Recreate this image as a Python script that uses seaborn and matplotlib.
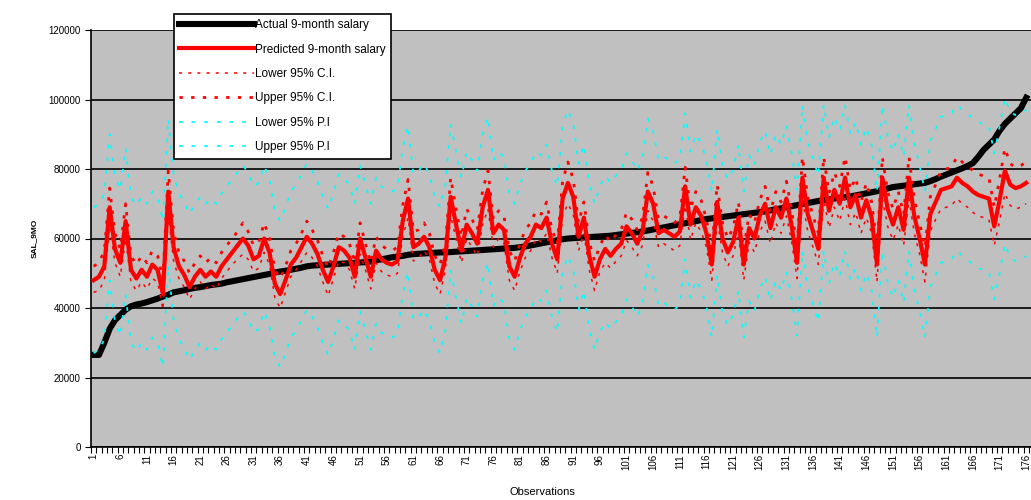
import numpy as np
import pandas as pd
import matplotlib
matplotlib.use("Agg")
import matplotlib.pyplot as plt
import seaborn as sns

# observation numbers 1..176
observations = list(range(1, 177))

actual_salary = [
    26500, 26500, 30000, 34000, 36500, 38000, 39500, 40500, 41000, 41300,
    41700, 42200, 42700, 43300, 43800, 44500, 44800, 45100, 45500, 45800,
    46000, 46300, 46600, 46800, 47000, 47400, 47700, 48000, 48300, 48600,
    48900, 49200, 49500, 49800, 50200, 50500, 50700, 51000, 51300, 51600,
    52000, 52200, 52300, 52400, 52500, 52600, 52700, 52800, 52900, 53000,
    53100, 53200, 53400, 53700, 54000, 54300, 54600, 54800, 55000, 55300,
    55500, 55600, 55700, 55800, 55900, 56000, 56000, 56100, 56200, 56300,
    56400, 56500, 56600, 56700, 56800, 56900, 57000, 57100, 57200, 57300,
    57500, 57700, 58000, 58300, 58600, 58900, 59200, 59500, 59800, 60000,
    60100, 60200, 60300, 60400, 60500, 60600, 60700, 60800, 61000, 61200,
    61400, 61600, 61800, 62000, 62300, 62600, 62900, 63200, 63500, 63800,
    64100, 64400, 64700, 65000, 65300, 65600, 65800, 66000, 66200, 66400,
    66600, 66800, 67000, 67200, 67400, 67600, 67800, 68100, 68400, 68700,
    69000, 69300, 69600, 69900, 70200, 70500, 70800, 71100, 71300, 71500,
    71700, 71900, 72100, 72400, 72700, 73000, 73300, 73600, 74000, 74400,
    74800, 75000, 75200, 75400, 75600, 75800, 76000, 76500, 77100, 77800,
    78400, 79000, 79600, 80200, 80900, 81700, 83500, 85500, 87000, 88500,
    91000, 93000, 94500, 96000, 97500, 100500,
]

predicted_salary = [
    48000, 49000, 52000, 69000, 57000, 53000, 65000, 51000, 48500, 51000,
    49000, 52500, 51000, 44000, 73500, 57500, 52000, 49500, 46000, 49000,
    51000, 49000, 50500, 49000, 52000, 54000, 56000, 58000, 60000, 58000,
    54000, 55000, 60000, 56000, 47000, 44000, 48000, 52500, 54500, 57500,
    60500, 58500, 55500, 51000, 47500, 52000, 57500, 56500, 54500, 49000,
    60000, 54500, 49000, 56500, 54000, 53000, 52500, 53500, 65000, 71500,
    57500, 58500, 60500, 57500, 51000, 48000, 54500, 72000, 64000, 56500,
    64000, 61500, 58500, 69000, 74000, 61500, 64000, 62500, 52000, 49000,
    54500, 58500, 60500, 64000, 63000, 66000, 58500, 54000, 71500, 76000,
    72000, 60500, 66000, 55000, 49000, 54000, 57000, 55000, 57000, 58500,
    63500, 61500, 58500, 62000, 73500, 70000, 61500, 62500, 61500, 60500,
    62000, 75000, 64000, 69000, 66500, 61500, 52500, 70500, 60000, 56000,
    59000, 66000, 52500, 63000, 60000, 66500, 70000, 63000, 69000, 66000,
    71500, 63500, 53000, 77500, 67000, 62000, 57000, 77500, 68000, 74000,
    70000, 77500, 69000, 72500, 66000, 71000, 66000, 52500, 77500, 68500,
    64000, 69000, 62500, 77500, 66500, 60000, 52500, 67000, 70500, 74000,
    74500, 75000, 77500, 76000, 75000, 73500, 72500, 72000, 71500, 63500,
    71000, 79500, 75500, 74500, 75000, 76000,
]

lower_ci = [
    44500, 45000, 48000, 63500, 53000, 49000, 60000, 47500, 45000, 47500,
    45500, 48500, 47500, 39500, 67000, 53500, 48500, 46000, 42500, 45500,
    47500, 45500, 47000, 45500, 48500, 50500, 52500, 54000, 55500, 54000,
    50500, 51500, 56000, 52500, 43000, 40000, 44500, 49000, 51000, 53500,
    56000, 54500, 52000, 47500, 43500, 48500, 53500, 53000, 51000, 45500,
    55500, 51000, 45500, 53000, 50500, 49500, 49000, 50000, 60500, 66000,
    53500, 54500, 56500, 54000, 47000, 44000, 51000, 66500, 60000, 53000,
    60000, 57500, 55000, 64000, 68500, 57500, 60000, 58500, 48000, 45000,
    50500, 54500, 56500, 60000, 59000, 61500, 54500, 50000, 66500, 70000,
    67000, 56500, 61500, 51000, 45000, 50500, 53000, 51500, 53500, 55000,
    59500, 57500, 55000, 58000, 68000, 65000, 57500, 58500, 57500, 56500,
    58000, 69500, 59500, 64500, 62000, 57500, 48000, 65500, 56000, 52000,
    55000, 61500, 48000, 59000, 56000, 62000, 65000, 58500, 64500, 61500,
    66500, 59000, 48500, 71500, 62000, 57500, 52500, 71500, 63000, 69000,
    65000, 71500, 64000, 67500, 61500, 66000, 61500, 47500, 71500, 63500,
    59500, 64000, 58000, 71500, 61500, 55500, 47500, 62000, 65500, 68500,
    69000, 69500, 71500, 70000, 69000, 67500, 66500, 66000, 65500, 58000,
    65000, 73000, 69500, 68500, 69000, 70000,
]

upper_ci = [
    52000, 53000, 56500, 74500, 61500, 57000, 70000, 55000, 52500, 55000,
    53000, 56500, 55000, 48500, 79500, 62000, 56000, 53500, 50000, 53000,
    55000, 53000, 54500, 53000, 56000, 58000, 60000, 62000, 64500, 62000,
    58000, 59000, 64500, 60000, 51000, 48500, 52000, 56500, 58500, 61500,
    65000, 62500, 59500, 55000, 51500, 56000, 61500, 60500, 58500, 53000,
    64500, 58500, 53000, 60500, 58000, 57000, 56500, 57500, 69500, 77000,
    62000, 62500, 64500, 61500, 55000, 52500, 58500, 77500, 68500, 60500,
    68500, 65500, 62500, 74000, 79500, 65500, 68000, 66500, 56500, 53500,
    58500, 62500, 64500, 68000, 67000, 70500, 62500, 58500, 76500, 82000,
    77000, 64500, 70500, 59000, 53500, 58000, 61000, 59000, 61000, 62500,
    67500, 65500, 62500, 66000, 79000, 75000, 65500, 66500, 65500, 64500,
    66000, 80500, 68500, 73500, 71000, 65500, 57000, 75500, 64500, 60000,
    63000, 70500, 57000, 67000, 64500, 71000, 75000, 67500, 73500, 70500,
    76500, 68000, 57500, 83500, 72000, 66500, 61500, 83500, 73000, 79000,
    75000, 83500, 74000, 77500, 70500, 76000, 70500, 57500, 83500, 73500,
    68500, 73500, 67000, 83500, 71500, 64500, 57500, 72000, 75500, 79500,
    80000, 80500, 83500, 82000, 81000, 79500, 78500, 78000, 77500, 69000,
    77000, 86000, 81500, 80500, 81000, 82000,
]

lower_pi = [
    27000, 28000, 31000, 48000, 36000, 32000, 44000, 30000, 27500, 30000,
    28000, 31500, 30000, 23000, 52500, 36500, 31000, 28500, 25000, 28000,
    30000, 28000, 29500, 28000, 31000, 33000, 35000, 37000, 39000, 37000,
    33000, 34000, 39000, 35000, 26000, 23000, 27000, 31500, 33500, 36500,
    39500, 37500, 34500, 30000, 26500, 31000, 36500, 35500, 33500, 28000,
    39000, 33500, 28000, 35500, 33000, 32000, 31500, 32500, 44000, 50500,
    36500, 37500, 39500, 36500, 30000, 27000, 33500, 51000, 43000, 35500,
    43000, 40500, 37500, 48000, 53000, 40500, 43000, 41500, 31000, 28000,
    33500, 37500, 39500, 43000, 42000, 45000, 37500, 33000, 50500, 55000,
    51000, 39500, 45000, 34000, 28000, 33000, 36000, 34000, 36000, 37500,
    42500, 40500, 37500, 41000, 52500, 49000, 40500, 41500, 40500, 39500,
    41000, 54000, 43000, 48000, 45500, 40500, 31500, 49500, 39000, 35000,
    38000, 45000, 31500, 42000, 39000, 45500, 49000, 42000, 48000, 45000,
    50500, 42500, 32000, 56500, 46000, 41000, 36000, 56500, 47000, 53000,
    49000, 56500, 48000, 51500, 45000, 50000, 45000, 31500, 56500, 47500,
    43000, 48000, 41500, 56500, 45500, 39000, 31500, 46000, 49500, 53000,
    53500, 54000, 56500, 55000, 54000, 52500, 51500, 51000, 50500, 42500,
    50000, 58500, 54500, 53500, 54000, 55000,
]

upper_pi = [
    69000, 70000, 73000, 90000, 78000, 74000, 86000, 72000, 69500, 72000,
    70000, 73500, 72000, 65000, 94500, 78500, 73000, 70500, 67000, 70000,
    72000, 70000, 71500, 70000, 73000, 75000, 77000, 79000, 81000, 79000,
    75000, 76000, 81000, 77000, 68000, 65000, 69000, 73500, 75500, 78500,
    81500, 79500, 76500, 72000, 68500, 73000, 78500, 77500, 75500, 70000,
    81000, 75500, 70000, 77500, 75000, 74000, 73500, 74500, 86000, 92500,
    78500, 79500, 81500, 78500, 72000, 69000, 75500, 93000, 85000, 77500,
    85000, 82500, 79500, 90000, 95000, 82500, 85000, 83500, 73000, 70000,
    75500, 79500, 81500, 85000, 84000, 87000, 79500, 75000, 92500, 97000,
    93000, 81500, 87000, 76000, 70000, 75000, 78000, 76000, 78000, 79500,
    84500, 82500, 79500, 83000, 94500, 91000, 82500, 83500, 82500, 81500,
    83000, 96000, 85000, 90000, 87500, 82500, 73500, 91500, 81000, 77000,
    80000, 87000, 73500, 84000, 81000, 87500, 91000, 84000, 90000, 87000,
    92500, 84500, 74000, 98500, 88000, 83000, 78000, 98500, 89000, 95000,
    91000, 98500, 90000, 93500, 87000, 92000, 87000, 73500, 98500, 89500,
    85000, 90000, 83500, 98500, 87500, 81000, 73500, 88000, 91500, 95000,
    95500, 96000, 98500, 97000, 96000, 94500, 93500, 93000, 92500, 84500,
    92000, 100500, 96500, 95500, 96000, 97000,
]

y_ticks = [0, 20000, 40000, 60000, 80000, 100000, 120000]
x_tick_labels = [str(i) for i in range(1, 177, 5)]

df = pd.DataFrame({
    "obs": observations,
    "actual": actual_salary,
    "predicted": predicted_salary,
    "lower_ci": lower_ci,
    "upper_ci": upper_ci,
    "lower_pi": lower_pi,
    "upper_pi": upper_pi,
})

plt.rcParams["font.family"] = ["Liberation Sans", "DejaVu Sans"]

fig = plt.figure(figsize=(10.31, 5.0), dpi=100)
ax = fig.add_axes([91 / 1031, 53 / 500, 940 / 1031, 417 / 500])
ax.set_facecolor("#C0C0C0")

sns.lineplot(data=df, x="obs", y="actual", ax=ax, color="black", lw=4.4,
             label="Actual 9-month salary", zorder=3)
sns.lineplot(data=df, x="obs", y="predicted", ax=ax, color="#FF0000", lw=3.0,
             label="Predicted 9-month salary", zorder=4)
sns.lineplot(data=df, x="obs", y="lower_ci", ax=ax, color="#FF0000", lw=1.1,
             linestyle=(0, (2, 4)), label="Lower 95% C.I.", zorder=5)
sns.lineplot(data=df, x="obs", y="upper_ci", ax=ax, color="#FF0000", lw=2.0,
             linestyle=(0, (1.2, 3)), label="Upper 95% C.I.", zorder=5)
sns.lineplot(data=df, x="obs", y="lower_pi", ax=ax, color="#00FFFF", lw=1.3,
             linestyle=(0, (2, 5)), label="Lower 95% P.I", zorder=5)
sns.lineplot(data=df, x="obs", y="upper_pi", ax=ax, color="#00FFFF", lw=1.3,
             linestyle=(0, (2, 5)), label="Upper 95% P.I", zorder=5)

ax.set_ylim(0, 120000)
ax.set_xlim(0.5, 176.9)
ax.set_yticks(y_ticks)
ax.set_yticklabels([str(v) for v in y_ticks], fontsize=7)
ax.yaxis.grid(True, color="black", lw=1.2)
ax.set_axisbelow(True)

ax.set_xticks(list(range(1, 177, 5)))
ax.set_xticklabels(x_tick_labels, rotation=90, fontsize=7)
ax.set_xticks(np.arange(0.5, 177, 1), minor=True)
ax.tick_params(axis="x", which="major", length=0, pad=5)
ax.tick_params(axis="x", which="minor", length=4, width=0.8, direction="out")
ax.tick_params(axis="y", length=4, width=0.8, direction="out")

for side in ["top", "right"]:
    ax.spines[side].set_visible(False)
ax.spines["left"].set_color("black")
ax.spines["bottom"].set_color("black")
ax.spines["left"].set_linewidth(1.2)
ax.spines["bottom"].set_linewidth(1.2)

ax.set_xlabel("Observations", fontsize=8)
ax.xaxis.set_label_coords(0.48, -0.095)
ax.set_ylabel("SAL_9MO", fontsize=6, fontweight="bold")
ax.yaxis.set_label_coords(-0.057, 0.5)

leg = ax.legend(loc="upper left", bbox_to_anchor=(168 / 1031, 492 / 500),
                bbox_transform=fig.transFigure, fontsize=8.5, frameon=True,
                fancybox=False, framealpha=1, edgecolor="black",
                handlelength=6.3, labelspacing=1.05, borderpad=0.45,
                handletextpad=0.15)
leg.get_frame().set_linewidth(1.2)
leg.set_zorder(10)

fig.savefig("out.png", dpi=100, facecolor="white")
